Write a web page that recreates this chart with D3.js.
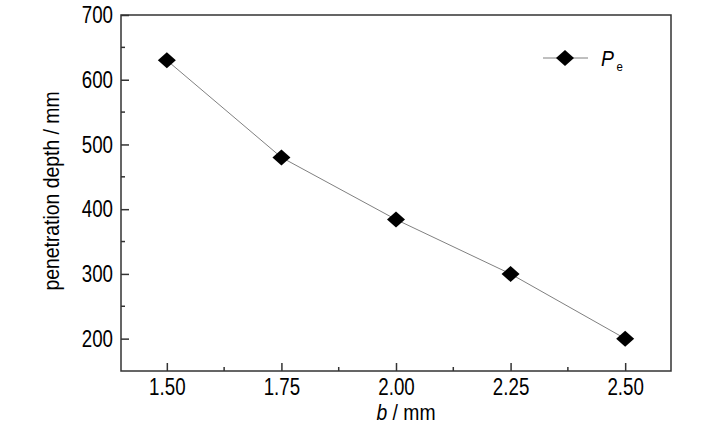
<!DOCTYPE html>
<html>
<head>
<meta charset="utf-8">
<script src="https://cdn.jsdelivr.net/npm/d3@7"></script>
<style>
  body { margin: 0; background: #fff; }
  svg text { font-family: "Liberation Sans", Arial, sans-serif; fill: #000; }
</style>
</head>
<body>
<svg id="chart" width="728" height="424"></svg>
<script>
const widths = [1.50, 1.75, 2.00, 2.25, 2.50];
const depths = [630, 480, 384, 300, 200];
const xTicks = [1.50, 1.75, 2.00, 2.25, 2.50];
const yTicks = [200, 300, 400, 500, 600, 700];

const plot = {left: 121, right: 671, top: 15, bottom: 371};
const tickSquash = 0.78;   // the original uses a condensed face
const titleSquash = 0.88;
const svg = d3.select('#chart');

const x = d3.scaleLinear().domain([1.4, 2.6]).range([plot.left, plot.right]);
const y = d3.scaleLinear().domain([150, 700]).range([plot.bottom, plot.top]);

// frame
svg.append('rect')
    .attr('x', plot.left)
    .attr('y', plot.top)
    .attr('width', plot.right - plot.left)
    .attr('height', plot.bottom - plot.top)
    .attr('fill', 'none')
    .attr('stroke', '#333')
    .attr('stroke-width', 1.5);

// x axis, ticks pointing inward
let xAxis = d3.axisBottom(x)
    .tickValues(xTicks)
    .tickSize(-8)
    .tickPadding(7)
    .tickFormat(d3.format('.2f'));
let gx = svg.append('g')
    .attr('class', 'x-axis')
    .attr('transform', `translate(0, ${plot.bottom})`)
    .call(xAxis);
gx.select('.domain').remove();
gx.selectAll('line').attr('stroke', '#333').attr('stroke-width', 1.5);
gx.selectAll('text')
    .style('font-size', '24px')
    .attr('fill', '#000')
    .attr('transform', `scale(${tickSquash},1)`);

// x minor ticks
svg.append('g')
    .selectAll('line')
    .data(d3.range(1.625, 2.5, 0.25))
    .join('line')
    .attr('x1', d => x(d)).attr('x2', d => x(d))
    .attr('y1', plot.bottom).attr('y2', plot.bottom - 4)
    .attr('stroke', '#333').attr('stroke-width', 1.5);

// y axis
let yAxis = d3.axisLeft(y)
    .tickValues(yTicks)
    .tickSize(-8)
    .tickPadding(8)
    .tickFormat(d3.format('d'));
let gy = svg.append('g')
    .attr('class', 'y-axis')
    .attr('transform', `translate(${plot.left}, 0)`)
    .call(yAxis);
gy.select('.domain').remove();
gy.selectAll('line').attr('stroke', '#333').attr('stroke-width', 1.5);
gy.selectAll('text')
    .style('font-size', '24px')
    .attr('fill', '#000')
    .attr('x', -8 / tickSquash)
    .attr('transform', `scale(${tickSquash},1)`);

// y minor ticks
svg.append('g')
    .selectAll('line')
    .data([250, 350, 450, 550, 650])
    .join('line')
    .attr('x1', plot.left).attr('x2', plot.left + 4)
    .attr('y1', d => y(d)).attr('y2', d => y(d))
    .attr('stroke', '#333').attr('stroke-width', 1.5);

// axis titles
svg.append('text')
    .attr('transform', `translate(59, 191) rotate(-90) scale(${titleSquash},1)`)
    .attr('text-anchor', 'middle')
    .style('font-size', '22px')
    .text('penetration depth / mm');

let xl = svg.append('text')
    .attr('transform', `translate(406, 420) scale(${titleSquash},1)`)
    .attr('text-anchor', 'middle')
    .style('font-size', '22px');
xl.append('tspan').attr('font-style', 'italic').text('b');
xl.append('tspan').text(' / mm');

// series
const pts = widths.map((w, i) => [w, depths[i]]);
svg.append('path')
    .datum(pts)
    .attr('fill', 'none')
    .attr('stroke', '#808080')
    .attr('stroke-width', 1)
    .attr('d', d3.line().x(d => x(d[0])).y(d => y(d[1])));

const diamond = 'M0,-8L9,0L0,8L-9,0Z';
svg.append('g')
    .selectAll('path')
    .data(pts)
    .join('path')
    .attr('transform', d => `translate(${x(d[0])}, ${y(d[1])})`)
    .attr('d', diamond)
    .attr('fill', '#000');

// legend
let lg = svg.append('g').attr('transform', 'translate(565, 58)');
lg.append('line')
    .attr('x1', -22).attr('x2', 23)
    .attr('stroke', '#808080').attr('stroke-width', 1);
lg.append('path').attr('d', diamond).attr('fill', '#000');
let lt = lg.append('text')
    .attr('transform', `translate(36, 8) scale(${titleSquash},1)`)
    .style('font-size', '22px');
lt.append('tspan').attr('font-style', 'italic').text('P');
lt.append('tspan').attr('dx', 3).attr('dy', 5).style('font-size', '13px').text('e');
</script>
</body>
</html>
